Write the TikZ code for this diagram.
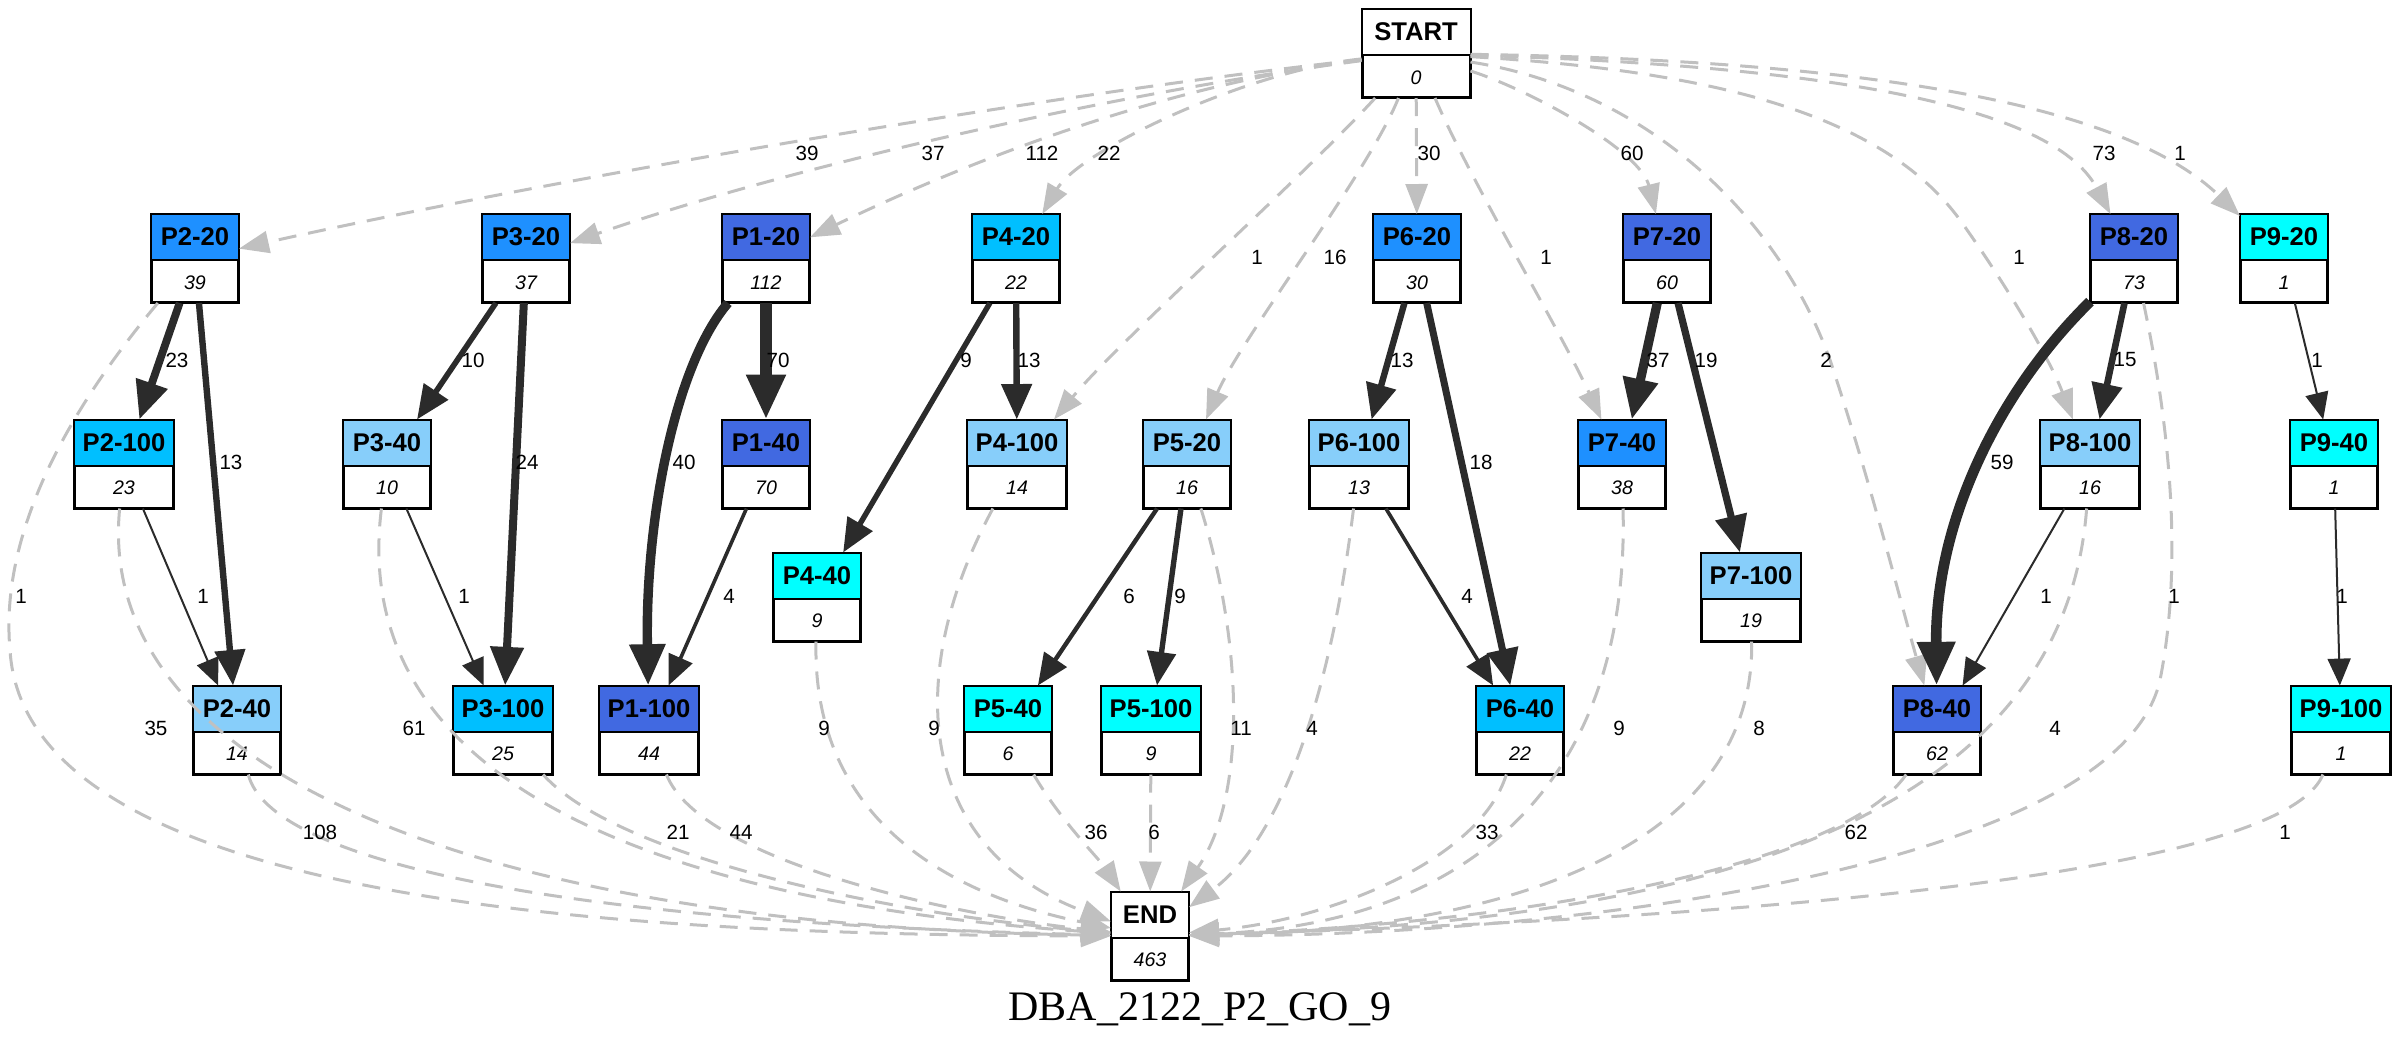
\documentclass[tikz,border=0pt]{standalone}
\usepackage{fontspec}
\setmainfont{Liberation Sans}
\newfontfamily\serifttl{Liberation Serif}
\usetikzlibrary{arrows.meta}

\definecolor{dodger}{HTML}{1E90FF}
\definecolor{royal}{HTML}{4169E1}
\definecolor{deepsky}{HTML}{00BFFF}
\definecolor{aqua}{HTML}{00FFFF}
\definecolor{lightsky}{HTML}{87CEFA}
\definecolor{edgedark}{HTML}{2B2B2B}
\definecolor{edgegray}{HTML}{C0C0C0}

\newcommand\hdrfont{\fontsize{12.8pt}{14pt}\selectfont\bfseries}
\newcommand\cntfont{\fontsize{9.8pt}{11pt}\selectfont\itshape}
\newcommand\labfont{\fontsize{10.3pt}{12pt}\selectfont}
\newcommand\ttlfont{\serifttl\fontsize{21pt}{24pt}\selectfont}

\tikzset{
  pbox/.style={draw, line width=1pt, fill=white, minimum height=43.5pt, inner sep=0pt},
  hdr/.style={font=\hdrfont, inner sep=0pt},
  cnt/.style={font=\cntfont, inner sep=0pt},
  elab/.style={font=\labfont, inner sep=0pt, text=black},
  flow/.style={draw=edgedark, line width=#1,
    -{Triangle[length=11.5pt 1.95, width=10pt 1.5]}},
  exitf/.style={draw=edgegray, line width=1.5pt, dash pattern=on 9pt off 6pt,
    -{Triangle[length=15pt, width=11pt]}},
}

% two-row box: coloured header with the step name, white row with the count
\newcommand\pbox[7]{%
  \node[pbox, minimum width=#4] (#1) at (#2,#3) {};
  \fill[#5] (#1.north west) rectangle ([yshift=-23pt]#1.north east);
  \draw[line width=1pt] (#1.north west) rectangle (#1.south east);
  \draw[line width=1pt] ([yshift=-23pt]#1.north west) -- ([yshift=-23pt]#1.north east);
  \node[hdr] (#1-h) at ([yshift=-11.5pt]#1.north) {#6};
  \node[cnt] (#1-c) at ([yshift=10.25pt]#1.south) {#7};
}

\begin{document}
\begin{tikzpicture}[x=0.5pt, y=-0.5pt]
\useasboundingbox (0,0) rectangle (2400,1051);

% ---------- nodes ----------
\pbox{START}{1416}{53.5}{53.5pt}{white}{START}{0}

\pbox{P2-20}{195}{258.5}{43pt}{dodger}{P2-20}{39}
\pbox{P3-20}{526}{258.5}{43pt}{dodger}{P3-20}{37}
\pbox{P1-20}{766}{258.5}{43pt}{royal}{P1-20}{112}
\pbox{P4-20}{1016}{258.5}{43pt}{deepsky}{P4-20}{22}
\pbox{P6-20}{1417}{258.5}{43pt}{dodger}{P6-20}{30}
\pbox{P7-20}{1667}{258.5}{43pt}{royal}{P7-20}{60}
\pbox{P8-20}{2134}{258.5}{43pt}{royal}{P8-20}{73}
\pbox{P9-20}{2284}{258.5}{43pt}{aqua}{P9-20}{1}

\pbox{P2-100}{124}{464}{49pt}{deepsky}{P2-100}{23}
\pbox{P3-40}{387}{464}{43pt}{lightsky}{P3-40}{10}
\pbox{P1-40}{766}{464}{43pt}{royal}{P1-40}{70}
\pbox{P4-100}{1017}{464}{49pt}{lightsky}{P4-100}{14}
\pbox{P5-20}{1187}{464}{43pt}{lightsky}{P5-20}{16}
\pbox{P6-100}{1359}{464}{49pt}{lightsky}{P6-100}{13}
\pbox{P7-40}{1622}{464}{43pt}{dodger}{P7-40}{38}
\pbox{P8-100}{2090}{464}{49pt}{lightsky}{P8-100}{16}
\pbox{P9-40}{2334}{464}{43pt}{aqua}{P9-40}{1}

\pbox{P4-40}{817}{597}{43pt}{aqua}{P4-40}{9}
\pbox{P7-100}{1751}{597}{49pt}{lightsky}{P7-100}{19}

\pbox{P2-40}{237}{730}{43pt}{lightsky}{P2-40}{14}
\pbox{P3-100}{503}{730}{49pt}{deepsky}{P3-100}{25}
\pbox{P1-100}{649}{730}{49pt}{royal}{P1-100}{44}
\pbox{P5-40}{1008}{730}{43pt}{aqua}{P5-40}{6}
\pbox{P5-100}{1151}{730}{49pt}{aqua}{P5-100}{9}
\pbox{P6-40}{1520}{730}{43pt}{deepsky}{P6-40}{22}
\pbox{P8-40}{1937}{730}{43pt}{royal}{P8-40}{62}
\pbox{P9-100}{2341}{730}{49pt}{aqua}{P9-100}{1}

\pbox{END}{1150}{936}{38pt}{white}{END}{463}

% ---------- edges leaving START ----------
\draw[exitf] (START) .. controls (1000,100) and (500,190) .. (P2-20)
  node[elab] (s1) at (807,153) {39};
\draw[exitf] (START) .. controls (1100,95) and (780,170) .. (P3-20)
  node[elab] (s2) at (933,153) {37};
\draw[exitf] (START) .. controls (1160,85) and (960,165) .. (P1-20)
  node[elab] (s3) at (1042,153) {112};
\draw[exitf] (START) .. controls (1250,70) and (1080,150) .. (P4-20)
  node[elab] (s4) at (1109,153) {22};
\draw[exitf] (START) .. controls (1300,180) and (1120,340) .. (P4-100)
  node[elab] (s5) at (1257,257) {1};
\draw[exitf] (START) .. controls (1370,170) and (1240,340) .. (P5-20)
  node[elab] (s6) at (1335,257) {16};
\draw[exitf] (START) -- (P6-20)
  node[elab] (s7) at (1429,153) {30};
\draw[exitf] (START) .. controls (1470,180) and (1560,330) .. (P7-40)
  node[elab] (s8) at (1546,257) {1};
\draw[exitf] (START) .. controls (1530,90) and (1640,150) .. (P7-20)
  node[elab] (s9) at (1632,153) {60};
\draw[exitf] (START) .. controls (1650,90) and (1780,220) .. (1830,360)
  .. controls (1870,480) and (1900,600) .. (P8-40)
  node[elab] (s10) at (1826,360) {2};
\draw[exitf] (START) .. controls (1700,70) and (1880,110) .. (1960,220)
  .. controls (2010,290) and (2050,360) .. (P8-100)
  node[elab] (s11) at (2019,257) {1};
\draw[exitf] (START) .. controls (1800,65) and (2050,100) .. (P8-20)
  node[elab] (s12) at (2104,153) {73};
\draw[exitf] (START) .. controls (1850,60) and (2120,100) .. (P9-20)
  node[elab] (s13) at (2180,153) {1};

% ---------- transitions between steps ----------
\draw[flow=3.9pt] (P2-20) -- (P2-100) node[elab] (t1) at (177,360) {23};
\draw[flow=3.2pt] (P2-20) -- (P2-40) node[elab] (t2) at (231,462) {13};
\draw[flow=2.8pt] (P3-20) -- (P3-40) node[elab] (t3) at (473,360) {10};
\draw[flow=4pt] (P3-20) -- (P3-100) node[elab] (t4) at (527,462) {24};
\draw[flow=4.7pt] (P1-20) .. controls (675,365) and (645,520) .. (P1-100)
  node[elab] (t5) at (684,462) {40};
\draw[flow=5.6pt] (P1-20) -- (P1-40) node[elab] (t6) at (778,360) {70};
\draw[flow=2.7pt] (P4-20) -- (P4-40) node[elab] (t7) at (966,360) {9};
\draw[flow=3.2pt] (P4-20) -- (P4-100) node[elab] (t8) at (1029,360) {13};
\draw[flow=3.2pt] (P6-20) -- (P6-100) node[elab] (t9) at (1402,360) {13};
\draw[flow=3.5pt] (P6-20) -- (P6-40) node[elab] (t10) at (1481,462) {18};
\draw[flow=4.6pt] (P7-20) -- (P7-40) node[elab] (t11) at (1658,360) {37};
\draw[flow=3.6pt] (P7-20) -- (P7-100) node[elab] (t12) at (1706,360) {19};
\draw[flow=5.3pt] (P8-20) .. controls (2000,390) and (1935,520) .. (P8-40)
  node[elab] (t13) at (2002,462) {59};
\draw[flow=3.3pt] (P8-20) -- (P8-100) node[elab] (t14) at (2125,360) {15};
\draw[flow=1pt] (P9-20) -- (P9-40) node[elab] (t15) at (2317,360) {1};
\draw[flow=1pt] (P2-100) -- (P2-40) node[elab] (t16) at (203,596) {1};
\draw[flow=1pt] (P3-40) -- (P3-100) node[elab] (t17) at (464,596) {1};
\draw[flow=1.8pt] (P1-40) -- (P1-100) node[elab] (t18) at (729,596) {4};
\draw[flow=2.2pt] (P5-20) -- (P5-40) node[elab] (t19) at (1129,596) {6};
\draw[flow=2.7pt] (P5-20) -- (P5-100) node[elab] (t20) at (1180,596) {9};
\draw[flow=1.8pt] (P6-100) -- (P6-40) node[elab] (t21) at (1467,596) {4};
\draw[flow=1pt] (P8-100) -- (P8-40) node[elab] (t22) at (2046,596) {1};
\draw[flow=1pt] (P9-40) -- (P9-100) node[elab] (t23) at (2342,596) {1};

% ---------- edges into END ----------
\draw[exitf] (P2-20) .. controls (60,420) and (0,540) .. (10,650)
  .. controls (25,900) and (600,935) .. (END)
  node[elab] (x1) at (21,596) {1};
\draw[exitf] (P2-100) .. controls (95,760) and (450,925) .. (END)
  node[elab] (x2) at (156,728) {35};
\draw[exitf] (P2-40) .. controls (270,860) and (550,922) .. (END)
  node[elab] (x3) at (320,832) {108};
\draw[exitf] (P3-40) .. controls (345,800) and (700,905) .. (END)
  node[elab] (x4) at (414,728) {61};
\draw[exitf] (P3-100) .. controls (620,860) and (900,915) .. (END)
  node[elab] (x5) at (678,832) {21};
\draw[exitf] (P1-100) .. controls (700,860) and (950,915) .. (END)
  node[elab] (x6) at (741,832) {44};
\draw[exitf] (P4-40) .. controls (812,820) and (950,895) .. (END)
  node[elab] (x7) at (824,728) {9};
\draw[exitf] (P4-100) .. controls (900,680) and (920,850) .. (END)
  node[elab] (x8) at (934,728) {9};
\draw[exitf] (P5-40) .. controls (1060,820) and (1100,860) .. (END)
  node[elab] (x9) at (1096,832) {36};
\draw[exitf] (P5-100) -- (END)
  node[elab] (x10) at (1154,832) {6};
\draw[exitf] (P5-20) .. controls (1245,650) and (1245,800) .. (END)
  node[elab] (x11) at (1241,728) {11};
\draw[exitf] (P6-100) .. controls (1330,700) and (1280,840) .. (END)
  node[elab] (x12) at (1312,728) {4};
\draw[exitf] (P6-40) .. controls (1480,860) and (1330,920) .. (END)
  node[elab] (x13) at (1487,832) {33};
\draw[exitf] (P7-40) .. controls (1630,800) and (1450,925) .. (END)
  node[elab] (x14) at (1619,728) {9};
\draw[exitf] (P7-100) .. controls (1755,850) and (1500,930) .. (END)
  node[elab] (x15) at (1759,728) {8};
\draw[exitf] (P8-40) .. controls (1840,870) and (1500,925) .. (END)
  node[elab] (x16) at (1856,832) {62};
\draw[exitf] (P8-100) .. controls (2060,860) and (1600,925) .. (END)
  node[elab] (x17) at (2055,728) {4};
\draw[exitf] (P8-20) .. controls (2175,450) and (2180,580) .. (2160,680)
  .. controls (2120,860) and (1600,935) .. (END)
  node[elab] (x18) at (2174,596) {1};
\draw[exitf] (P9-100) .. controls (2280,880) and (1700,920) .. (END)
  node[elab] (x19) at (2285,832) {1};

% ---------- title ----------
\node[font=\ttlfont, anchor=base, inner sep=0pt] (title) at (1200,1020) {DBA\_2122\_P2\_GO\_9};
\end{tikzpicture}
\end{document}
